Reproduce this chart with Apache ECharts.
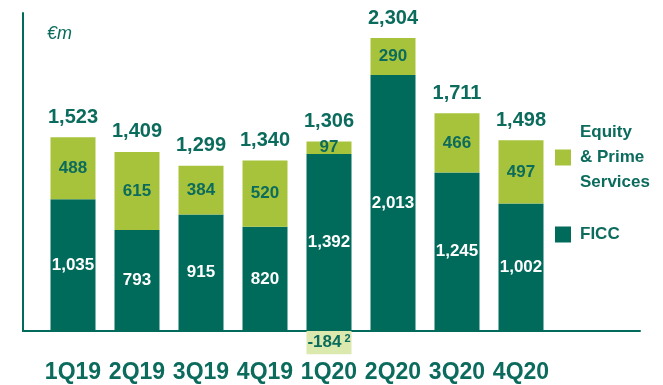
<!DOCTYPE html>
<html>
<head>
<meta charset="utf-8">
<script src="https://cdn.jsdelivr.net/npm/echarts@6/dist/echarts.min.js"></script>
<style>
  html, body { margin: 0; padding: 0; background: #fff; }
  #chart { width: 663px; height: 385px; }
</style>
</head>
<body>
<div id="chart"></div>
<script>
// Quarterly revenues, €m
const quarters = ['1Q19', '2Q19', '3Q19', '4Q19', '1Q20', '2Q20', '3Q20', '4Q20'];
const ficc = [1035, 793, 915, 820, 1392, 2013, 1245, 1002];
const equity = [488, 615, 384, 520, 97, 290, 466, 497];
const adjustment = [null, null, null, null, -184, null, null, null];
const totals = [1523, 1409, 1299, 1340, 1306, 2304, 1711, 1498];

const DARK = '#006a5b';
const LIGHT = '#a6c33b';
const PALE = '#dbe8ae';
const TEXT = '#0b6b5c';
const SANS = '"Liberation Sans", Arial, sans-serif';

const fmt = v => Number(v).toLocaleString('en-US');

const chart = echarts.init(document.getElementById('chart'), null, { renderer: 'canvas' });

chart.setOption({
  animation: false,
  backgroundColor: '#fff',
  grid: [
    { left: 41, width: 512, top: 13, bottom: 28.6, containLabel: false },
    { left: 23, right: 23, top: 13, bottom: 54, containLabel: false }
  ],
  xAxis: [
    {
      type: 'category', data: quarters, gridIndex: 0,
      axisLine: { show: false }, axisTick: { show: false },
      axisLabel: { interval: 0, color: TEXT, fontFamily: SANS, fontWeight: 'bold', fontSize: 23, margin: 5 }
    },
    {
      type: 'value', gridIndex: 1, min: 0, max: 1,
      axisLine: { show: true, onZero: false, lineStyle: { color: DARK, width: 2 } },
      axisTick: { show: false }, axisLabel: { show: false }, splitLine: { show: false }
    }
  ],
  yAxis: [
    {
      type: 'value', gridIndex: 0, min: -200, max: 2500,
      axisLine: { show: false }, axisTick: { show: false },
      axisLabel: { show: false }, splitLine: { show: false }
    },
    {
      type: 'value', gridIndex: 1, min: 0, max: 1,
      axisLine: { show: true, onZero: false, lineStyle: { color: DARK, width: 2 } },
      axisTick: { show: false }, axisLabel: { show: false }, splitLine: { show: false }
    }
  ],
  legend: {
    orient: 'vertical', left: 550, top: 115, itemWidth: 16, itemHeight: 16, itemGap: 27,
    icon: 'rect', selectedMode: false,
    data: ['Equity\n& Prime\nServices', 'FICC'],
    textStyle: { color: TEXT, fontFamily: SANS, fontWeight: 'bold', fontSize: 17, lineHeight: 25, padding: [0, 0, 0, 4] }
  },
  title: {
    text: '€m', left: 42, top: 20,
    textStyle: { color: TEXT, fontFamily: SANS, fontStyle: 'italic', fontWeight: 'normal', fontSize: 18 }
  },
  series: [
    {
      name: 'FICC', type: 'bar', stack: 'rev', data: ficc, barWidth: 45,
      itemStyle: { color: DARK },
      label: { show: true, position: 'inside', color: '#fff', fontFamily: SANS, fontWeight: 'bold', fontSize: 17, formatter: p => fmt(p.value) }
    },
    {
      name: 'Equity\n& Prime\nServices', type: 'bar', stack: 'rev', data: equity, barWidth: 45,
      itemStyle: { color: LIGHT },
      label: { show: true, position: 'inside', color: TEXT, fontFamily: SANS, fontWeight: 'bold', fontSize: 17, formatter: p => fmt(p.value) }
    },
    {
      // zero-height cap on each stack, carrying the quarter total
      name: 'Total', type: 'bar', stack: 'rev', barWidth: 45,
      data: totals.map(() => 0),
      itemStyle: { color: 'transparent' },
      label: {
        show: true, position: 'top', distance: 10,
        color: TEXT, fontFamily: SANS, fontWeight: 'bold', fontSize: 20,
        formatter: p => fmt(totals[p.dataIndex])
      }
    },
    {
      name: 'Adjustment', type: 'bar', stack: 'rev', data: adjustment, barWidth: 45,
      itemStyle: { color: PALE },
      label: {
        show: true, position: 'inside',
        formatter: p => '{v|' + fmt(p.value) + '}{s| 2}',
        rich: {
          v: { color: TEXT, fontFamily: SANS, fontWeight: 'bold', fontSize: 17 },
          s: { color: TEXT, fontFamily: SANS, fontWeight: 'bold', fontSize: 11, verticalAlign: 'top', padding: [0, 0, 7, 0] }
        }
      }
    }
  ]
});
</script>
</body>
</html>
